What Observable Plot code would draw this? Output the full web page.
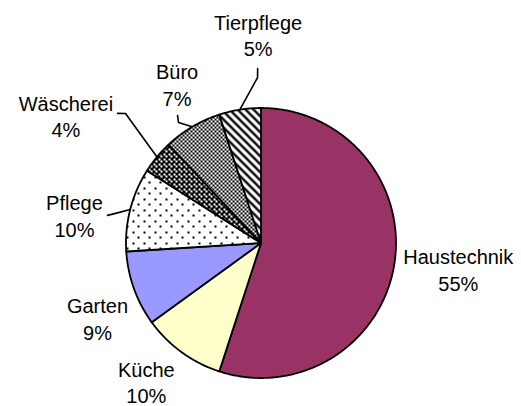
<!DOCTYPE html>
<html><head><meta charset="utf-8">
<script src="https://cdn.jsdelivr.net/npm/d3@7"></script>
<script src="https://cdn.jsdelivr.net/npm/@observablehq/plot@0.6"></script>
<style>body{margin:0;background:#fff;} #chart svg{display:block;}</style>
</head><body><div id="chart"></div>
<script>
// ---- data ----
const categories = ["Haustechnik", "Küche", "Garten", "Pflege", "Wäscherei", "Büro", "Tierpflege"];
const values = [55, 10, 9, 10, 4, 7, 5];
const fills = ["#993366", "#FFFFCC", "#9999FF", "url(#pDots)", "url(#pDark)", "url(#pCheck)", "url(#pDiag)"];

// ---- layout (polar: angle in degrees clockwise from 12 o'clock, radius as factor of pie radius) ----
const labelPolar = [[97.5, 1.474], [219.6, 1.333], [245.4, 1.332], [278.5, 1.397], [303.2, 1.727], [332.2, 1.333], [359.2, 1.544]];
const leaderPolar = {
  "Pflege": [[280.2, 1.155], [281.5, 1.100]],
  "Wäscherei": [[312.1, 1.432], [313.7, 1.388]],
  "Büro": [[326.8, 1.129], [325.6, 1.082]],
  "Tierpflege": [[358.9, 1.293], [358.8, 1.226]]
};
const W = 521, H = 406, CX = 260.5, CY = 242.5, R = 135;

const rad = d => d * Math.PI / 180;
const polar = (a, r) => ({x: r * Math.sin(a), y: r * Math.cos(a)});

const arcs = d3.pie().sort(null).value(d => d)(values);
const slices = [];
arcs.forEach((a, i) => {
  slices.push({cat: categories[i], ...polar(0, 0)});
  const n = Math.max(2, Math.ceil((a.endAngle - a.startAngle) / rad(0.5)));
  for (let k = 0; k <= n; k++) {
    const t = a.startAngle + (a.endAngle - a.startAngle) * k / n;
    slices.push({cat: categories[i], ...polar(t, 1)});
  }
});

const labels = categories.map((c, i) => ({
  text: `${c}\n${values[i]}%`,
  ...polar(rad(labelPolar[i][0]), labelPolar[i][1])
}));

const leaders = [];
Object.entries(leaderPolar).forEach(([c, pts]) => {
  const i = categories.indexOf(c);
  pts.forEach(([a, r]) => leaders.push({cat: c, ...polar(rad(a), r)}));
  const mid = (arcs[i].startAngle + arcs[i].endAngle) / 2;
  leaders.push({cat: c, ...polar(mid, 1)});
});

const chart = Plot.plot({
  width: W, height: H, margin: 0,
  x: {domain: [-CX / R, (W - CX) / R], axis: null},
  y: {domain: [(CY - H) / R, CY / R], axis: null},
  color: {domain: categories, range: fills},
  style: {background: "white"},
  marks: [
    Plot.line(slices, {x: "x", y: "y", z: "cat", fill: "cat", stroke: "black", strokeWidth: 1.8, curve: "linear-closed", strokeLinejoin: "round"}),
    Plot.line(leaders, {x: "x", y: "y", z: "cat", stroke: "black", strokeWidth: 1.6}),
    Plot.text(labels, {x: "x", y: "y", text: "text", fontSize: 20, fontFamily: "Liberation Sans, Arial, sans-serif", lineHeight: 1.33, fill: "black", textAnchor: "middle"})
  ]
});

const svg = d3.select(chart);
const defs = svg.insert("defs", ":first-child");
function pat(id, size, bg) {
  const p = defs.append("pattern").attr("id", id).attr("patternUnits", "userSpaceOnUse")
    .attr("width", size).attr("height", size).attr("shape-rendering", "crispEdges");
  p.append("rect").attr("width", size).attr("height", size).attr("fill", bg);
  return p;
}
function sq(p, x, y, s, c) {
  p.append("rect").attr("x", x).attr("y", y).attr("width", s).attr("height", s).attr("fill", c).attr("shape-rendering", "crispEdges");
}
// sparse dots
let p = pat("pDots", 11, "white");
sq(p, 0, 0, 2, "black"); sq(p, 5, 5, 2, "black");
// dark checker (mostly black)
p = pat("pDark", 5, "black");
sq(p, 0, 0, 2, "white"); sq(p, 3, 3, 2, "white");
// checker
p = pat("pCheck", 4, "white");
sq(p, 0, 0, 2, "black"); sq(p, 2, 2, 2, "black");
// downward diagonal stripes
p = pat("pDiag", 8, "white");
p.append("path").attr("d", "M-2,-2L10,10M-2,6L2,10M6,-2L10,2").attr("stroke", "black").attr("stroke-width", 2.3).attr("shape-rendering", "auto");

document.getElementById("chart").appendChild(chart);
</script>
</body></html>
